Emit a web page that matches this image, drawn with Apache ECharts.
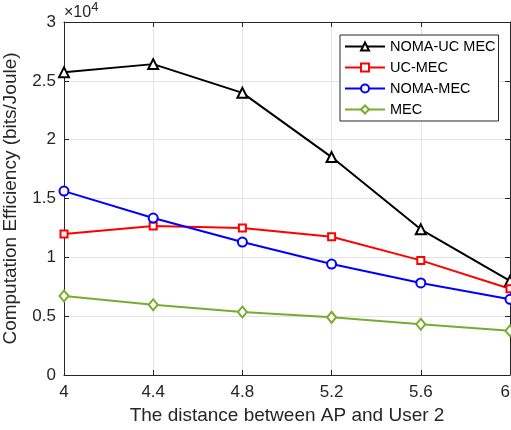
<!DOCTYPE html>
<html>
<head>
<meta charset="utf-8">
<script src="https://cdn.jsdelivr.net/npm/echarts@6/dist/echarts.min.js"></script>
<style>
html,body{margin:0;padding:0;background:#fff;}
#c{width:511px;height:430px;}
</style>
</head>
<body>
<div id="c"></div>
<script>
const distances = [4, 4.4, 4.8, 5.2, 5.6, 6];
const nomaUcMec = [25720, 26420, 23980, 18520, 12380, 8000];
const ucMec = [11980, 12660, 12490, 11750, 9740, 7330];
const nomaMec = [15630, 13340, 11300, 9430, 7820, 6430];
const mec = [6710, 5970, 5350, 4900, 4310, 3760];
const seriesNames = ['NOMA-UC MEC', 'UC-MEC', 'NOMA-MEC', 'MEC'];
const xTitle = 'The distance between AP and User 2';
const yTitle = 'Computation Efficiency (bits/Joule)';

const font = 'Liberation Sans, Arial, Helvetica, sans-serif';
const axisColor = '#262626';
function pts(vals){ return distances.map((d,i)=>[d, vals[i]]); }
function mk(name, vals, color, symbol, size){
  return {
    name: name, type: 'line', data: pts(vals),
    symbol: symbol, symbolSize: size, showAllSymbol: true,
    lineStyle: {color: color, width: 2},
    itemStyle: {color: color, borderColor: color, borderWidth: 1.6},
    emphasis: {disabled: true}, animation: false, z: 3
  };
}
const chart = echarts.init(document.getElementById('c'), null, {renderer: 'canvas'});
chart.setOption({
  animation: false,
  backgroundColor: '#fff',
  grid: {left: 64, right: 1, top: 22, bottom: 55, containLabel: false, outerBoundsMode: 'none'},
  legend: {
    orient: 'vertical', left: 340, top: 35,
    data: seriesNames,
    backgroundColor: '#fff', borderColor: '#262626', borderWidth: 1,
    padding: [4, 3, 4, 4], itemWidth: 40, itemHeight: 10, itemGap: 6,
    textStyle: {fontFamily: font, fontSize: 14.5, color: '#000', lineHeight: 15}
  },
  xAxis: [{
    type: 'value', min: 4, max: 6, interval: 0.4,
    name: xTitle, nameLocation: 'middle', nameGap: 27,
    nameTextStyle: {fontFamily: font, fontSize: 19, color: axisColor},
    axisLine: {onZero: false, lineStyle: {color: axisColor, width: 1}},
    axisTick: {inside: true, length: 5, lineStyle: {color: axisColor}},
    axisLabel: {fontFamily: font, fontSize: 17, color: axisColor, margin: 9, alignMaxLabel: 'right',
      formatter: v => String(parseFloat(v.toFixed(2)))},
    splitLine: {show: true, lineStyle: {color: '#e3e3e3', width: 1}}
  }, {
    type: 'value', position: 'top', min: 4, max: 6, interval: 0.4,
    axisLine: {onZero: false, lineStyle: {color: axisColor, width: 1}},
    axisTick: {inside: true, length: 5, lineStyle: {color: axisColor}},
    axisLabel: {show: false}, splitLine: {show: false}
  }],
  yAxis: [{
    type: 'value', min: 0, max: 30000, interval: 5000,
    name: yTitle, nameLocation: 'middle', nameGap: 44,
    nameTextStyle: {fontFamily: font, fontSize: 19, color: axisColor},
    axisLine: {show: true, onZero: false, lineStyle: {color: axisColor, width: 1}},
    axisTick: {show: true, inside: true, length: 5, lineStyle: {color: axisColor}},
    axisLabel: {fontFamily: font, fontSize: 17, color: axisColor, margin: 8,
      formatter: v => String(parseFloat((v/10000).toFixed(2)))},
    splitLine: {show: true, lineStyle: {color: '#e3e3e3', width: 1}}
  }, {
    type: 'value', position: 'right', min: 0, max: 30000, interval: 5000,
    axisLine: {show: true, onZero: false, lineStyle: {color: axisColor, width: 1}},
    axisTick: {show: true, inside: true, length: 5, lineStyle: {color: axisColor}},
    axisLabel: {show: false}, splitLine: {show: false}
  }],
  graphic: [{
    type: 'text', left: 64, top: 1,
    style: {
      text: '{a|×10}{b|4}', fill: axisColor,
      rich: {
        a: {fontFamily: font, fontSize: 16, color: axisColor, verticalAlign: 'bottom', lineHeight: 20},
        b: {fontFamily: font, fontSize: 13, color: axisColor, verticalAlign: 'top', lineHeight: 13, padding: [0,0,8,0]}
      }
    }
  }],
  series: [
    mk(seriesNames[0], nomaUcMec, '#000000', 'emptyTriangle', 10),
    mk(seriesNames[1], ucMec, '#ff0000', 'emptyRect', 7),
    mk(seriesNames[2], nomaMec, '#0000ff', 'emptyCircle', 9),
    mk(seriesNames[3], mec, '#77ac30', 'emptyDiamond', [9, 11])
  ]
});
</script>
</body>
</html>
